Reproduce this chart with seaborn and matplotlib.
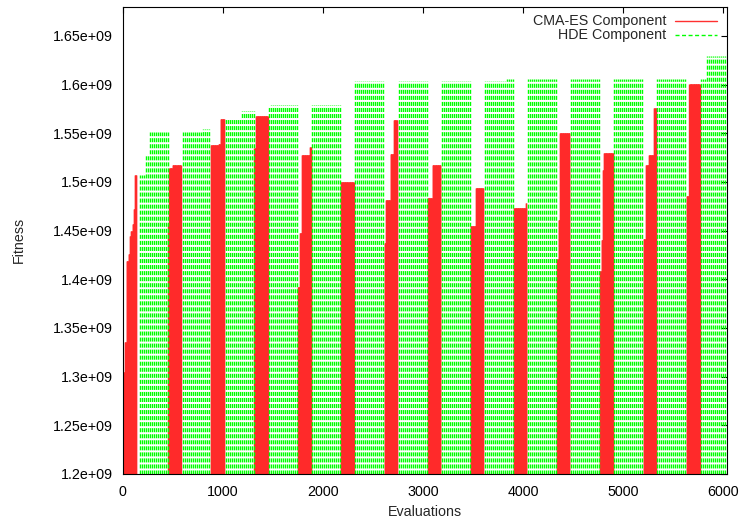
import matplotlib
matplotlib.use("Agg")
import matplotlib.pyplot as plt
import numpy as np
import seaborn as sns
from matplotlib.ticker import FuncFormatter, MultipleLocator

# CMA-ES phases: evaluation ranges and the fitness steps (x1e9) inside them
cma_seg_start = [0, 457, 884, 1317, 1750, 2183, 2617, 3050, 3477, 3910, 4340, 4770, 5205, 5635]
cma_seg_end = [140, 584, 1017, 1450, 1883, 2310, 2743, 3177, 3603, 4037, 4467, 4900, 5333, 5767]
cma_change_x = [0, 10, 24, 40, 57, 70, 84, 97, 110, 124,
                457, 467, 500,
                884, 957, 977,
                1317, 1333,
                1750, 1767, 1790, 1867,
                2183,
                2617, 2627, 2677, 2707,
                3050, 3097,
                3477, 3527,
                3910, 4027,
                4340, 4353, 4367,
                4770, 4783, 4797, 4810,
                5205, 5227, 5257, 5307,
                5635, 5660]
cma_change_fit = [1.228, 1.305, 1.336, 1.419, 1.426, 1.444, 1.450, 1.457, 1.472, 1.507,
                  1.458, 1.514, 1.517,
                  1.538, 1.539, 1.565,
                  1.535, 1.568,
                  1.392, 1.448, 1.528, 1.536,
                  1.500,
                  1.437, 1.4815, 1.529, 1.564,
                  1.483, 1.517,
                  1.455, 1.494,
                  1.473, 1.478,
                  1.4205, 1.461, 1.550,
                  1.408, 1.440, 1.512, 1.5295,
                  1.441, 1.5175, 1.528, 1.5755,
                  1.486, 1.601]

# HDE phases
hde_seg_start = [174, 604, 1030, 1463, 1893, 2323, 2757, 3190, 3623, 4053, 4483, 4913, 5343, 5773]
hde_seg_end = [457, 884, 1317, 1750, 2183, 2617, 3043, 3477, 3910, 4340, 4770, 5203, 5633, 6033]
hde_change_x = [174, 234, 267,
                604, 790,
                1030, 1183,
                1463, 1483,
                1893,
                2323,
                2757,
                3190,
                3623, 3833,
                4053,
                4483,
                4913,
                5343,
                5773, 5833]
hde_change_fit = [1.507, 1.528, 1.551,
                  1.551, 1.554,
                  1.565, 1.5726,
                  1.577, 1.579,
                  1.579,
                  1.604,
                  1.604,
                  1.604,
                  1.604, 1.6057,
                  1.6057,
                  1.6057,
                  1.6057,
                  1.6057,
                  1.6057, 1.6294]

x_ticks = [0, 1000, 2000, 3000, 4000, 5000, 6000]


def impulses(seg_start, seg_end, change_x, change_fit, step):
    # one impulse every `step` evaluations, holding the best fitness found so far
    cx = np.array(change_x)
    cf = np.array(change_fit) * 1e9
    xs, ys = [], []
    for s, e in zip(seg_start, seg_end):
        x = np.arange(s, e, step)
        idx = np.searchsorted(cx, x, side="right") - 1
        xs.append(x)
        ys.append(cf[idx])
    return np.concatenate(xs), np.concatenate(ys)


sns.set_style("white")
plt.rcParams["font.family"] = ["Liberation Sans", "DejaVu Sans"]
plt.rcParams["lines.scale_dashes"] = False

fig = plt.figure(figsize=(7.44, 5.2), dpi=100)
ax = fig.add_axes([0.1647, 0.0885, 0.8121, 0.8986])

y0 = 1.2e9
cx, cy = impulses(cma_seg_start, cma_seg_end, cma_change_x, cma_change_fit, 4)
hx, hy = impulses(hde_seg_start, hde_seg_end, hde_change_x, hde_change_fit, 20)

ax.vlines(cx, y0, cy, color="#ff2a2a", lw=1.0)
green = ax.vlines(hx, y0, hy, color="#00ff00", lw=1.0, linestyles=[(0, (2.9, 1.45))])
green.set_snap(True)

ax.set_xlim(0, 6035)
ax.set_ylim(1.2e9, 1.68e9)
ax.set_xticks(x_ticks)
ax.yaxis.set_major_locator(MultipleLocator(0.05e9))
ax.yaxis.set_major_formatter(FuncFormatter(lambda v, p: "%g" % v))

for s in ax.spines.values():
    s.set_color("black")
    s.set_linewidth(0.8)
ax.tick_params(direction="in", length=4, width=0.8, top=True, right=True,
               labelsize=10.3, colors="black")
ax.tick_params(axis="x", pad=8)
ax.tick_params(axis="y", pad=7)

ax.set_xlabel("Evaluations", fontsize=10.3)
ax.set_ylabel("Fitness", fontsize=10.3)
ax.xaxis.set_label_coords(0.5007, -0.066)
ax.yaxis.set_label_coords(-0.160, 0.5)

# gnuplot-style key: right aligned text followed by line sample
ax.text(0.8996, 0.9694, "CMA-ES Component", transform=ax.transAxes,
        ha="right", va="center", fontsize=10.3)
ax.text(0.8996, 0.9384, "HDE Component", transform=ax.transAxes,
        ha="right", va="center", fontsize=10.3)
ax.plot([0.9144, 0.9839], [0.9694, 0.9694], transform=ax.transAxes,
        color="#ff3030", lw=1.0)
ax.plot([0.9144, 0.9839], [0.9384, 0.9384], transform=ax.transAxes,
        color="#00ff00", lw=1.0, linestyle=(0, (2.9, 1.8)))

fig.savefig("out.png", dpi=100)
